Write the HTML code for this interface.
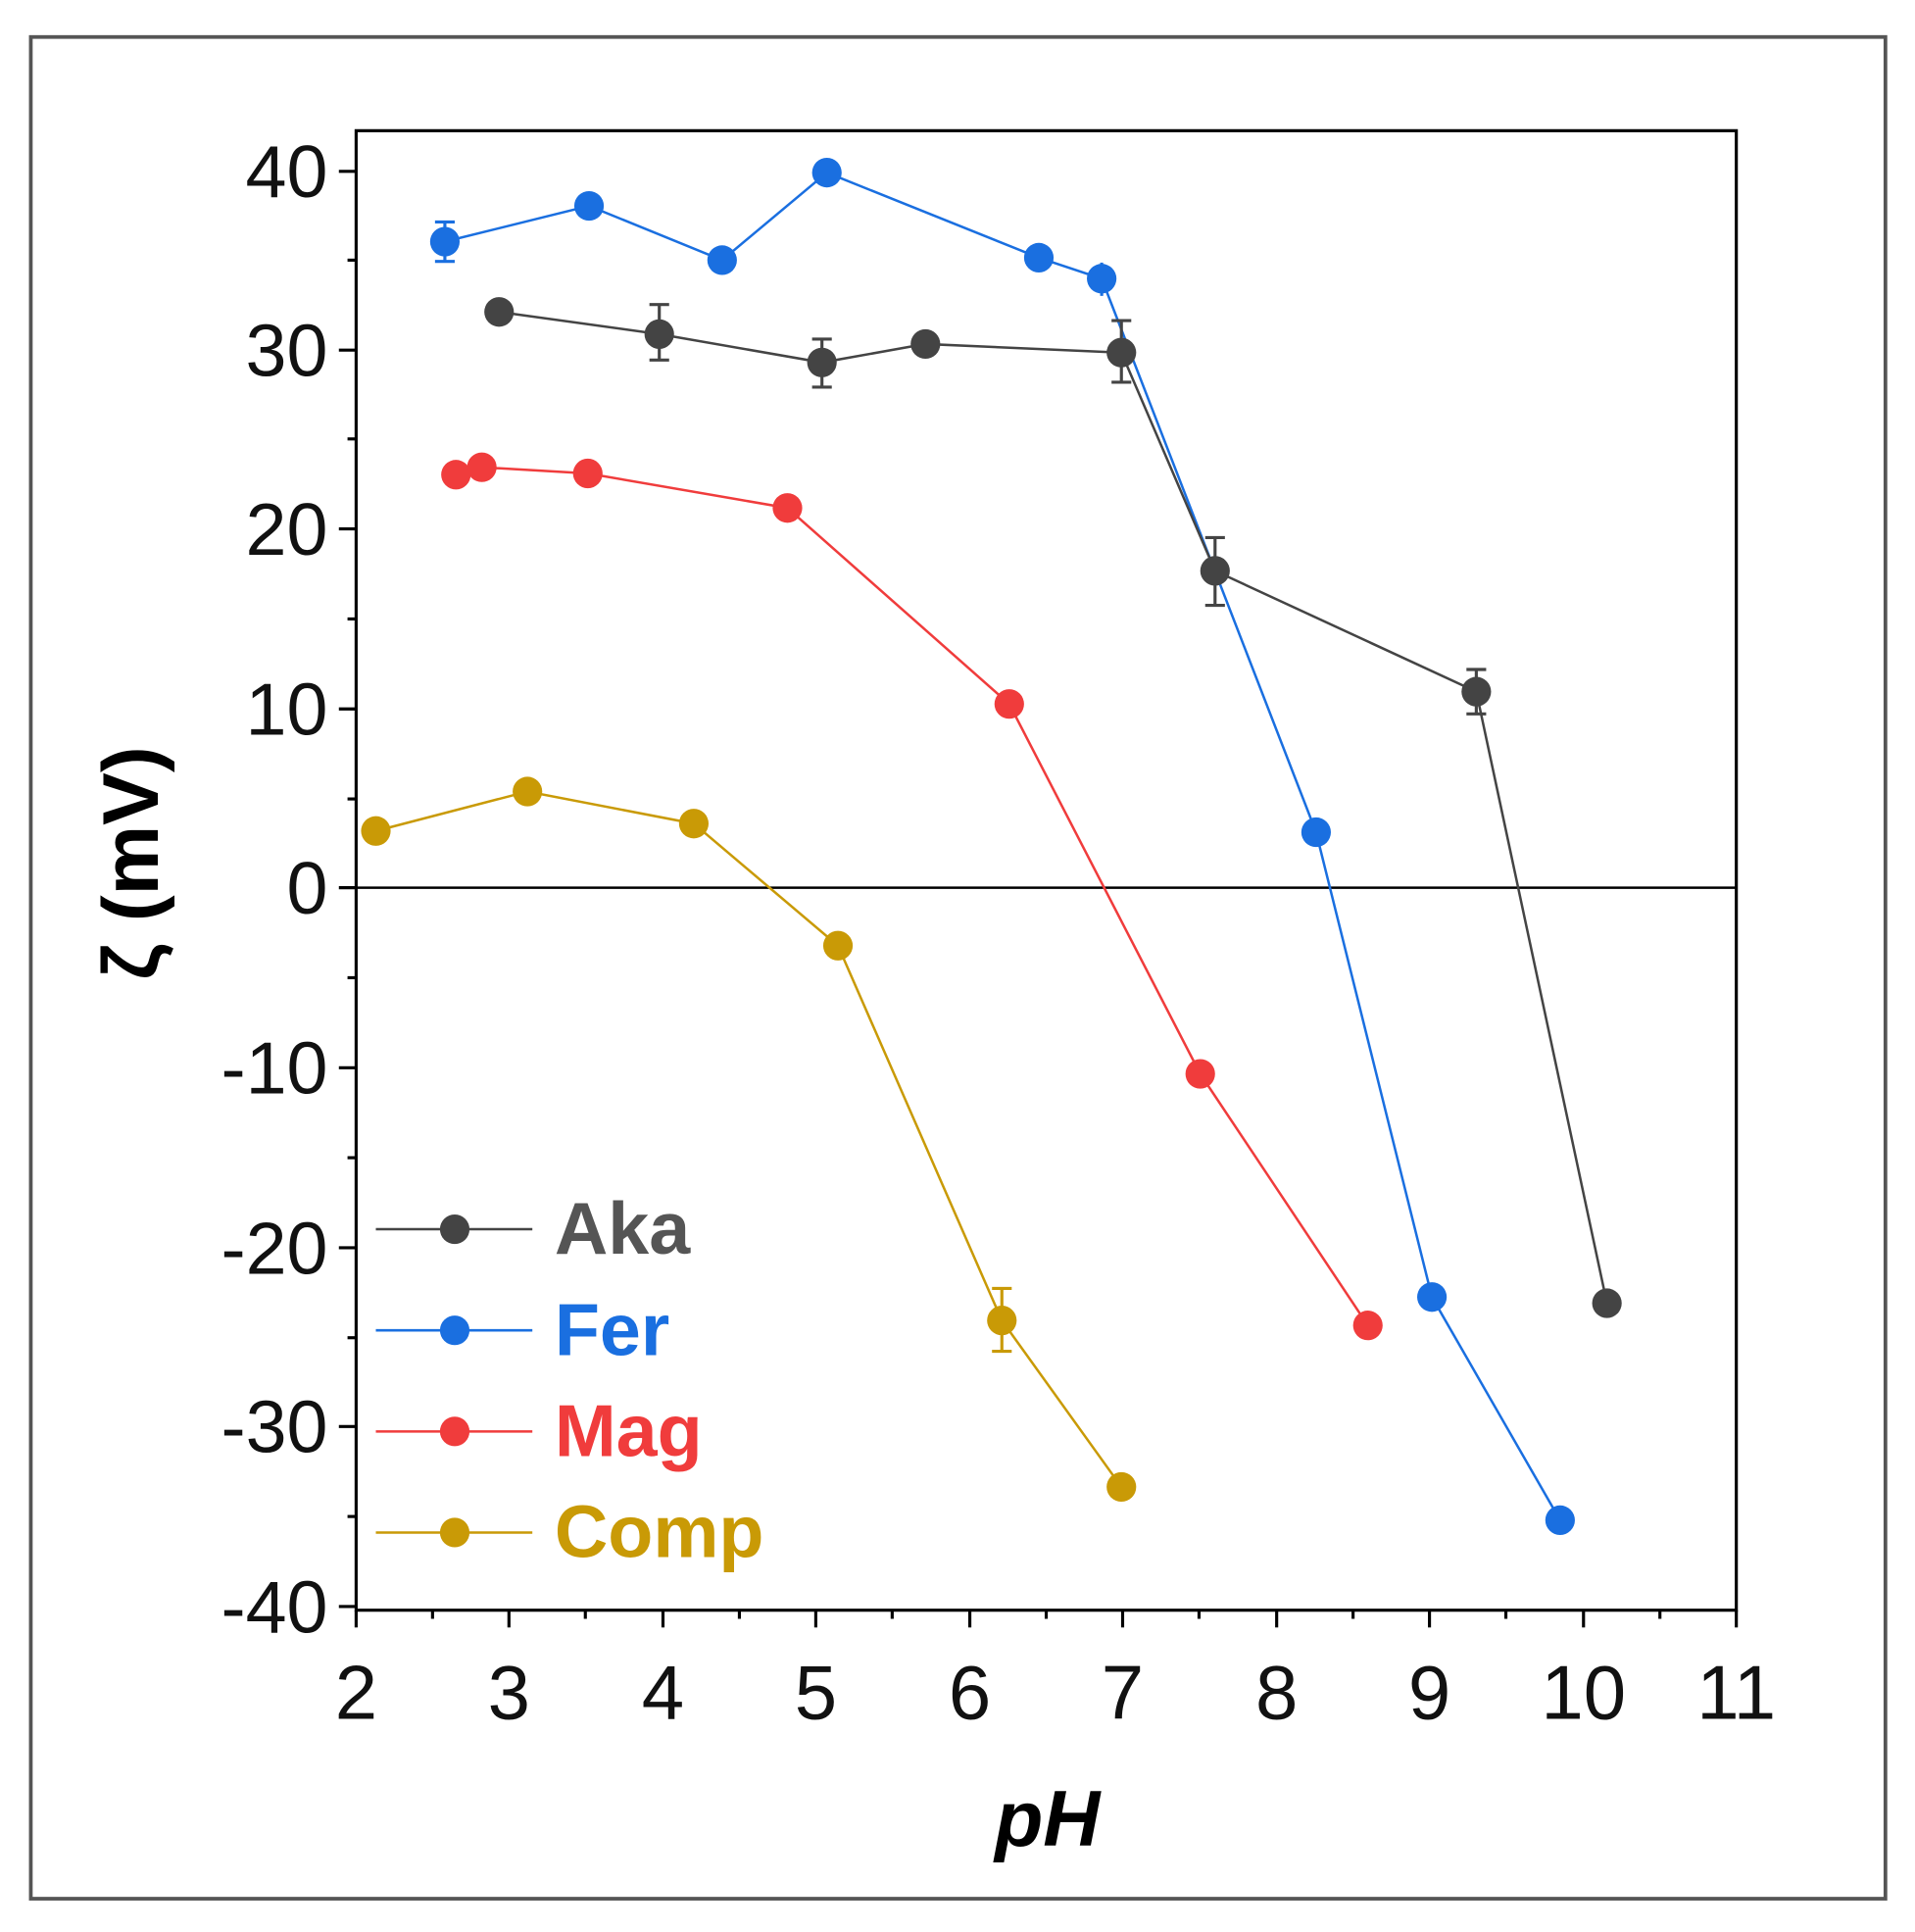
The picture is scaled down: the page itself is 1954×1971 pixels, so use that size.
<!DOCTYPE html>
<html><head><meta charset="utf-8"><style>html,body{margin:0;padding:0;background:#fff}svg{display:block}</style></head>
<body>
<svg width="1954" height="1971" viewBox="0 0 1554 1567" preserveAspectRatio="none" xmlns="http://www.w3.org/2000/svg" font-family="Liberation Sans, sans-serif">
<rect x="25" y="30" width="1505" height="1510" fill="#fff" stroke="#555" stroke-width="3"/>
<rect x="289" y="106" width="1120" height="1200" fill="none" stroke="#000" stroke-width="2.5"/>
<line x1="289" y1="720" x2="1409" y2="720" stroke="#000" stroke-width="2"/>
<g stroke="#000" stroke-width="2.5">
<line x1="275" y1="139" x2="289" y2="139"/><line x1="275" y1="284" x2="289" y2="284"/><line x1="275" y1="429" x2="289" y2="429"/><line x1="275" y1="575" x2="289" y2="575"/><line x1="275" y1="720" x2="289" y2="720"/><line x1="275" y1="866" x2="289" y2="866"/><line x1="275" y1="1012" x2="289" y2="1012"/><line x1="275" y1="1157" x2="289" y2="1157"/><line x1="275" y1="1303" x2="289" y2="1303"/>
<line x1="282" y1="211" x2="289" y2="211"/><line x1="282" y1="356" x2="289" y2="356"/><line x1="282" y1="502" x2="289" y2="502"/><line x1="282" y1="648" x2="289" y2="648"/><line x1="282" y1="793" x2="289" y2="793"/><line x1="282" y1="939" x2="289" y2="939"/><line x1="282" y1="1085" x2="289" y2="1085"/><line x1="282" y1="1230" x2="289" y2="1230"/>
<line x1="289" y1="1306" x2="289" y2="1320"/><line x1="413" y1="1306" x2="413" y2="1320"/><line x1="538" y1="1306" x2="538" y2="1320"/><line x1="662" y1="1306" x2="662" y2="1320"/><line x1="787" y1="1306" x2="787" y2="1320"/><line x1="911" y1="1306" x2="911" y2="1320"/><line x1="1036" y1="1306" x2="1036" y2="1320"/><line x1="1160" y1="1306" x2="1160" y2="1320"/><line x1="1285" y1="1306" x2="1285" y2="1320"/><line x1="1409" y1="1306" x2="1409" y2="1320"/>
<line x1="351" y1="1306" x2="351" y2="1313"/><line x1="475" y1="1306" x2="475" y2="1313"/><line x1="600" y1="1306" x2="600" y2="1313"/><line x1="724" y1="1306" x2="724" y2="1313"/><line x1="849" y1="1306" x2="849" y2="1313"/><line x1="973" y1="1306" x2="973" y2="1313"/><line x1="1098" y1="1306" x2="1098" y2="1313"/><line x1="1222" y1="1306" x2="1222" y2="1313"/><line x1="1347" y1="1306" x2="1347" y2="1313"/>
</g>
<g font-size="60" text-anchor="end" fill="#111">
<text x="266" y="160">40</text><text x="266" y="305">30</text><text x="266" y="450">20</text><text x="266" y="596">10</text><text x="266" y="741">0</text><text x="266" y="887">-10</text><text x="266" y="1033">-20</text><text x="266" y="1178">-30</text><text x="266" y="1324">-40</text>
</g>
<g font-size="62" text-anchor="middle" fill="#111">
<text x="289" y="1394">2</text><text x="413" y="1394">3</text><text x="538" y="1394">4</text><text x="662" y="1394">5</text><text x="787" y="1394">6</text><text x="911" y="1394">7</text><text x="1036" y="1394">8</text><text x="1160" y="1394">9</text><text x="1285" y="1394">10</text><text x="1409" y="1394">11</text>
</g>
<text x="850" y="1497" font-size="64" font-weight="bold" font-style="italic" text-anchor="middle">pH</text>
<text transform="translate(128,700) rotate(-90)" font-size="64" font-weight="bold" text-anchor="middle">ζ (mV)</text>
<g fill="none" stroke-width="2">
<polyline stroke="#1a6fe0" points="361,196 478,167 586,211 671,140 843,209 894,226 1068,675 1162,1052 1266,1233"/>
<polyline stroke="#444" points="405,253 535,271 667,294 751,279 910,286 986,463 1198,561 1304,1057"/>
<polyline stroke="#f03c3c" points="370,385 391,379 477,384 639,412 819,571 974,871 1110,1075"/>
<polyline stroke="#c99a06" points="305,674 428,642 563,668 680,767 813,1071 910,1206"/>
</g>
<g stroke-width="2.5">
<g stroke="#1a6fe0"><line x1="361" y1="180" x2="361" y2="212"/><line x1="353" y1="180" x2="369" y2="180"/><line x1="353" y1="212" x2="369" y2="212"/><line x1="894" y1="213" x2="894" y2="240"/></g>
<g stroke="#444"><line x1="535" y1="247" x2="535" y2="292"/><line x1="527" y1="247" x2="543" y2="247"/><line x1="527" y1="292" x2="543" y2="292"/>
<line x1="667" y1="275" x2="667" y2="314"/><line x1="659" y1="275" x2="675" y2="275"/><line x1="659" y1="314" x2="675" y2="314"/>
<line x1="910" y1="260" x2="910" y2="310"/><line x1="902" y1="260" x2="918" y2="260"/><line x1="902" y1="310" x2="918" y2="310"/>
<line x1="986" y1="436" x2="986" y2="491"/><line x1="978" y1="436" x2="994" y2="436"/><line x1="978" y1="491" x2="994" y2="491"/>
<line x1="1198" y1="543" x2="1198" y2="579"/><line x1="1190" y1="543" x2="1206" y2="543"/><line x1="1190" y1="579" x2="1206" y2="579"/></g>
<g stroke="#c99a06"><line x1="813" y1="1045" x2="813" y2="1096"/><line x1="805" y1="1045" x2="821" y2="1045"/><line x1="805" y1="1096" x2="821" y2="1096"/></g>
</g>
<g fill="#1a6fe0"><circle cx="361" cy="196" r="12"/><circle cx="478" cy="167" r="12"/><circle cx="586" cy="211" r="12"/><circle cx="671" cy="140" r="12"/><circle cx="843" cy="209" r="12"/><circle cx="894" cy="226" r="12"/><circle cx="1068" cy="675" r="12"/><circle cx="1162" cy="1052" r="12"/><circle cx="1266" cy="1233" r="12"/></g>
<g fill="#444"><circle cx="405" cy="253" r="12"/><circle cx="535" cy="271" r="12"/><circle cx="667" cy="294" r="12"/><circle cx="751" cy="279" r="12"/><circle cx="910" cy="286" r="12"/><circle cx="986" cy="463" r="12"/><circle cx="1198" cy="561" r="12"/><circle cx="1304" cy="1057" r="12"/></g>
<g fill="#f03c3c"><circle cx="370" cy="385" r="12"/><circle cx="391" cy="379" r="12"/><circle cx="477" cy="384" r="12"/><circle cx="639" cy="412" r="12"/><circle cx="819" cy="571" r="12"/><circle cx="974" cy="871" r="12"/><circle cx="1110" cy="1075" r="12"/></g>
<g fill="#c99a06"><circle cx="305" cy="674" r="12"/><circle cx="428" cy="642" r="12"/><circle cx="563" cy="668" r="12"/><circle cx="680" cy="767" r="12"/><circle cx="813" cy="1071" r="12"/><circle cx="910" cy="1206" r="12"/></g>
<g stroke-width="2">
<line x1="305" y1="997" x2="432" y2="997" stroke="#444"/><line x1="305" y1="1079" x2="432" y2="1079" stroke="#1a6fe0"/><line x1="305" y1="1161" x2="432" y2="1161" stroke="#f03c3c"/><line x1="305" y1="1243" x2="432" y2="1243" stroke="#c99a06"/>
</g>
<circle cx="369" cy="997" r="12" fill="#444"/><circle cx="369" cy="1079" r="12" fill="#1a6fe0"/><circle cx="369" cy="1161" r="12" fill="#f03c3c"/><circle cx="369" cy="1243" r="12" fill="#c99a06"/>
<g font-size="60" font-weight="bold">
<text x="450" y="1017" fill="#555">Aka</text><text x="450" y="1099" fill="#1a6fe0">Fer</text><text x="450" y="1181" fill="#f03c3c">Mag</text><text x="450" y="1263" fill="#c99a06">Comp</text>
</g>
</svg>
</body></html>
